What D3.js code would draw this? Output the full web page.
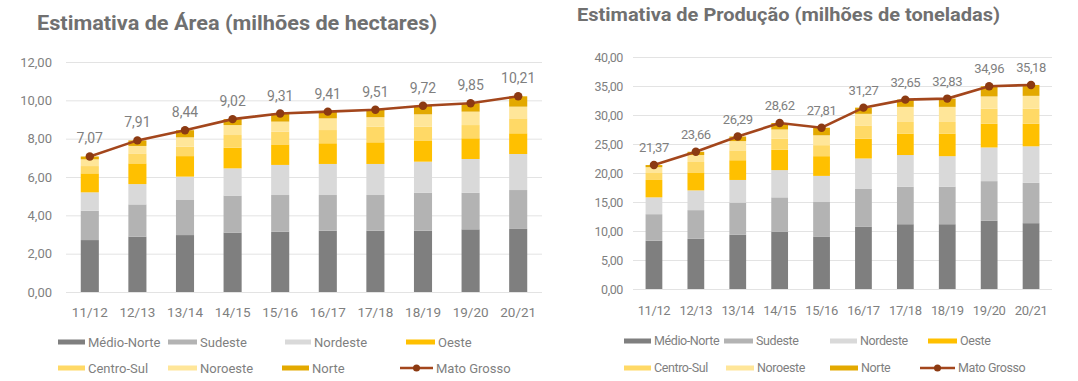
<!DOCTYPE html>
<html><head><meta charset="utf-8">
<script src="https://cdn.jsdelivr.net/npm/d3@7"></script>
<style>
body{margin:0;background:#fff}
svg{display:block}
text{font-family:Roboto,"Noto Sans",sans-serif}
</style>
</head><body>
<svg id="c" width="1078" height="381"></svg>
<script>
// ---------- DATA ----------
const categories = ["11/12","12/13","13/14","14/15","15/16","16/17","17/18","18/19","19/20","20/21"];
const seriesNames = ["Médio-Norte","Sudeste","Nordeste","Oeste","Centro-Sul","Noroeste","Norte"];
const lineName = "Mato Grosso";

const areaTitle = "Estimativa de Área (milhões de hectares)";
const areaMedioNorte = [2.71,2.89,2.97,3.10,3.15,3.20,3.20,3.20,3.27,3.29];
const areaSudeste    = [1.53,1.68,1.83,1.93,1.91,1.86,1.86,1.98,1.91,2.03];
const areaNordeste   = [0.96,1.06,1.22,1.42,1.57,1.62,1.62,1.62,1.76,1.88];
const areaOeste      = [0.99,1.08,1.07,1.08,1.07,1.08,1.13,1.08,1.08,1.08];
const areaCentroSul  = [0.38,0.52,0.49,0.66,0.66,0.69,0.81,0.74,0.69,0.78];
const areaNoroeste   = [0.35,0.39,0.49,0.52,0.53,0.61,0.50,0.65,0.70,0.61];
const areaNorte      = [0.15,0.29,0.37,0.31,0.42,0.35,0.39,0.45,0.44,0.54];
const areaTotal      = [7.07,7.91,8.44,9.02,9.31,9.41,9.51,9.72,9.85,10.21];
const areaTicks      = [0,2,4,6,8,10,12];

const prodTitle = "Estimativa de Produção (milhões de toneladas)";
const prodMedioNorte = [8.31,8.65,9.34,9.90,9.05,10.77,11.17,11.17,11.75,11.35];
const prodSudeste    = [4.59,4.95,5.56,5.90,5.95,6.48,6.48,6.48,6.85,6.95];
const prodNordeste   = [2.90,3.40,3.90,4.70,4.50,5.25,5.45,5.25,5.80,6.30];
const prodOeste      = [3.00,3.10,3.40,3.50,3.40,3.40,3.70,3.90,4.10,3.90];
const prodCentroSul  = [1.20,1.80,1.70,1.90,1.90,2.30,2.00,2.00,2.60,2.60];
const prodNoroeste   = [1.00,1.20,1.60,1.60,1.70,2.00,2.60,2.60,2.10,2.20];
const prodNorte      = [0.37,0.56,0.79,1.12,1.31,1.07,1.25,1.43,1.76,1.88];
const prodTotal      = [21.37,23.66,26.29,28.62,27.81,31.27,32.65,32.83,34.96,35.18];
const prodTicks      = [0,5,10,15,20,25,30,35,40];

// ---------- STYLE ----------
const colors = ["#7f7f7f","#b3b3b3","#d9d9d9","#ffc000","#ffd966","#ffe699","#e3a900"];
const lineColor = "#a3461c", markerColor = "#8c3a12";
const textColor = "#7f7f7f";
const fmt = v => d3.format(".2f")(v).replace(".", ",");

const svg = d3.select("#c");

function drawChart(o){
  const g = svg.append("g");
  const rows = categories.map((c,i)=>{
    const r = {cat:c};
    o.series.forEach((s,j)=> r[seriesNames[j]] = s[i]);
    return r;
  });
  const stacked = d3.stack().keys(seriesNames)(rows);
  const x = d3.scaleBand().domain(categories).range([o.x0,o.x1]).paddingInner(o.pad).paddingOuter(o.pad/2);
  const y = d3.scaleLinear().domain([0, d3.max(o.ticks)]).range([o.y0,o.y1]);

  // title
  g.append("text").attr("x",o.titleX).attr("y",o.titleY)
    .attr("font-family","'Open Sans',sans-serif").attr("font-weight","bold")
    .attr("font-size",o.titleSize).attr("fill","#707070")
    .attr("textLength",o.titleLen).attr("lengthAdjust","spacingAndGlyphs")
    .text(o.title);

  // y axis (gridlines + labels)
  const yAxis = d3.axisLeft(y).tickValues(o.ticks).tickFormat(fmt)
    .tickSize(-(o.x1-o.x0)).tickPadding(o.yPad);
  const ya = g.append("g").attr("transform",`translate(${o.x0},0)`).call(yAxis);
  ya.select(".domain").remove();
  ya.selectAll(".tick line").attr("stroke","#e3e3e3").attr("stroke-width",1);
  ya.selectAll(".tick text").attr("fill",textColor).attr("font-size",o.tickSize)
    .attr("font-family","Roboto,sans-serif").attr("letter-spacing",o.ls);

  // bars
  g.append("g").selectAll("g").data(stacked).join("g")
    .attr("fill",(d,i)=>colors[i])
    .selectAll("rect").data(d=>d).join("rect")
    .attr("x",d=>x(d.data.cat)).attr("width",x.bandwidth())
    .attr("y",d=>y(d[1])).attr("height",d=>y(d[0])-y(d[1]));

  // x axis
  const xAxis = d3.axisBottom(x).tickSize(0).tickPadding(o.xPad);
  const xa = g.append("g").attr("transform",`translate(0,${o.y0})`).call(xAxis);
  xa.select(".domain").remove();
  xa.selectAll(".tick text").attr("fill",textColor).attr("font-size",o.tickSize+0.5)
    .attr("font-family","Roboto,sans-serif").attr("letter-spacing",o.ls);

  // line
  const cx = c => x(c)+x.bandwidth()/2;
  g.append("path").datum(o.total)
    .attr("fill","none").attr("stroke",lineColor).attr("stroke-width",2.6)
    .attr("d",d3.line().x((d,i)=>cx(categories[i])).y(d=>y(d)));
  g.append("g").selectAll("circle").data(o.total).join("circle")
    .attr("cx",(d,i)=>cx(categories[i])).attr("cy",d=>y(d)).attr("r",4.2)
    .attr("fill",markerColor);
  g.append("g").selectAll("text").data(o.total).join("text")
    .attr("x",(d,i)=>cx(categories[i])).attr("y",d=>y(d)-o.labelOff)
    .attr("text-anchor","middle").attr("fill",textColor).attr("font-size",o.labelSize)
    .attr("letter-spacing",o.ls)
    .text(d=>fmt(d));

  // legend
  const names = seriesNames.concat([lineName]);
  names.forEach((n,i)=>{
    const p = o.legend[i];
    const lg = g.append("g");
    if(i < seriesNames.length){
      lg.append("rect").attr("x",p[0]).attr("y",p[2]-2.5).attr("width",p[1]-p[0]-3).attr("height",5)
        .attr("fill",colors[i]);
    } else {
      lg.append("line").attr("x1",p[0]).attr("x2",p[1]-3).attr("y1",p[2]).attr("y2",p[2])
        .attr("stroke",lineColor).attr("stroke-width",2.6);
      lg.append("circle").attr("cx",(p[0]+p[1]-3)/2).attr("cy",p[2]).attr("r",3.5).attr("fill",markerColor);
    }
    lg.append("text").attr("x",p[1]).attr("y",p[2]).attr("dy","0.35em")
      .attr("fill",textColor).attr("font-size",o.legendSize).attr("letter-spacing",o.ls).text(n);
  });
}

drawChart({
  title: areaTitle, titleX: 37, titleY: 30, titleSize: 20, titleLen: 400,
  series: [areaMedioNorte,areaSudeste,areaNordeste,areaOeste,areaCentroSul,areaNoroeste,areaNorte],
  total: areaTotal, ticks: areaTicks,
  x0: 66, x1: 542, y0: 292, y1: 62, pad: 0.62,
  yPad: 14, xPad: 15, tickSize: 13, labelSize: 14, labelOff: 13, legendSize: 13, ls: 0,
  legend: [[58,88,342],[168,200,342],[285,314,342],[406,438,342],
           [58,88,368],[168,200,368],[282,312,368],[400,436,368]]
});

drawChart({
  title: prodTitle, titleX: 577, titleY: 21, titleSize: 18, titleLen: 423,
  series: [prodMedioNorte,prodSudeste,prodNordeste,prodOeste,prodCentroSul,prodNoroeste,prodNorte],
  total: prodTotal, ticks: prodTicks,
  x0: 633, x1: 1052, y0: 289, y1: 57, pad: 0.6,
  yPad: 10, xPad: 17, tickSize: 12.5, labelSize: 13, labelOff: 13, legendSize: 12.5, ls: -0.4,
  legend: [[624,654,341],[724,756,341],[830,860,341],[928,960,341],
           [624,654,368],[726,757,368],[830,861,368],[920,958,368]]
});
</script>
</body></html>
